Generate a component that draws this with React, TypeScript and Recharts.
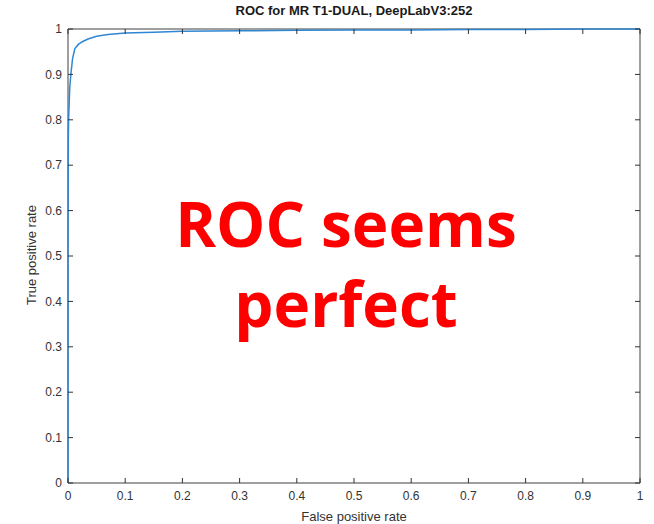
import { CartesianGrid, Line, LineChart, XAxis, YAxis } from "recharts";

const falsePositiveRate = [
  0, 0, 0.0005, 0.001, 0.003, 0.005, 0.008, 0.012, 0.018, 0.025, 0.035, 0.05, 0.07, 0.1, 0.15, 0.2, 0.3, 0.4, 0.5,
  0.6, 0.7, 0.8, 0.9, 1,
];
const truePositiveRate = [
  0, 0.5, 0.75, 0.8, 0.87, 0.9, 0.935, 0.957, 0.966, 0.972, 0.978, 0.984, 0.988, 0.991, 0.993, 0.995, 0.996, 0.997,
  0.998, 0.998, 0.999, 0.999, 1, 1,
];
const ticks = [0, 0.1, 0.2, 0.3, 0.4, 0.5, 0.6, 0.7, 0.8, 0.9, 1];

const TITLE = "ROC for MR T1-DUAL, DeepLabV3:252";
const X_LABEL = "False positive rate";
const Y_LABEL = "True positive rate";
const NOTE = ["ROC seems", "perfect"];

const WIDTH = 654;
const HEIGHT = 524;
const MARGIN = { top: 29, right: 14, bottom: 0, left: 0 };
const FONT = "'Liberation Sans', Arial, Helvetica, sans-serif";
const TICK_STROKE = "#333";
const TICK_LEN = 5;
const X_GAP = 8;
const Y_GAP = 6;

const data = falsePositiveRate.map((fpr, i) => ({ fpr, tpr: truePositiveRate[i] }));

// matlab-style ticks: marks point into the box on all four sides, labels outside
function BottomTick({ x, y, payload }: any) {
  const axisY = y - X_GAP;
  const topY = MARGIN.top;
  return (
    <g>
      <line x1={x} x2={x} y1={axisY} y2={axisY - TICK_LEN} stroke={TICK_STROKE} />
      <line x1={x} x2={x} y1={topY} y2={topY + TICK_LEN} stroke={TICK_STROKE} />
      <text x={x} y={y} dy="0.71em" textAnchor="middle" fontSize={12} fill="#333" fontFamily={FONT}>
        {payload.value}
      </text>
    </g>
  );
}

function LeftTick({ x, y, payload }: any) {
  const axisX = x + Y_GAP;
  const rightX = WIDTH - MARGIN.right;
  return (
    <g>
      <line x1={axisX} x2={axisX + TICK_LEN} y1={y} y2={y} stroke={TICK_STROKE} />
      <line x1={rightX - TICK_LEN} x2={rightX} y1={y} y2={y} stroke={TICK_STROKE} />
      <text x={x} y={y} dy="0.355em" textAnchor="end" fontSize={12} fill="#333" fontFamily={FONT}>
        {payload.value}
      </text>
    </g>
  );
}

export default function App() {
  return (
    <div style={{ position: "absolute", left: 0, top: 0, width: WIDTH, height: HEIGHT, background: "#fff" }}>
      <LineChart width={WIDTH} height={HEIGHT} data={data} margin={MARGIN}>
        <CartesianGrid
          horizontalValues={[0, 1]}
          verticalValues={[0, 1]}
          stroke="#7f7f7f"
          strokeWidth={1.5}
          fill="none"
        />
        <XAxis
          dataKey="fpr"
          type="number"
          domain={[0, 1]}
          ticks={ticks}
          height={41}
          tickSize={0}
          tickMargin={X_GAP}
          axisLine={false}
          tickLine={false}
          tick={<BottomTick />}
          interval={0}
        />
        <YAxis
          type="number"
          domain={[0, 1]}
          ticks={ticks}
          width={68}
          tickSize={0}
          tickMargin={Y_GAP}
          axisLine={false}
          tickLine={false}
          tick={<LeftTick />}
          interval={0}
        />
        <Line
          dataKey="tpr"
          type="linear"
          stroke="#2f86d2"
          strokeWidth={1.5}
          dot={false}
          activeDot={false}
          isAnimationActive={false}
        />
      </LineChart>

      <div
        style={{
          position: "absolute",
          left: 68,
          width: 572,
          top: 3,
          textAlign: "center",
          fontFamily: FONT,
          fontWeight: "bold",
          fontSize: 13,
          color: "#1a1a1a",
        }}
      >
        {TITLE}
      </div>
      <div
        style={{
          position: "absolute",
          left: 68,
          width: 572,
          top: 509,
          textAlign: "center",
          fontFamily: FONT,
          fontSize: 13,
          color: "#333",
        }}
      >
        {X_LABEL}
      </div>
      <div
        style={{
          position: "absolute",
          left: 32 - 100,
          top: 255 - 8,
          width: 200,
          height: 16,
          lineHeight: "16px",
          textAlign: "center",
          transform: "rotate(-90deg)",
          fontFamily: FONT,
          fontSize: 13,
          color: "#333",
        }}
      >
        {Y_LABEL}
      </div>
      {NOTE.map((line, i) => (
        <div
          key={line}
          style={{
            position: "absolute",
            left: 46,
            width: 600,
            top: 192 + i * 80,
            textAlign: "center",
            lineHeight: "62px",
            fontFamily: "'Open Sans', sans-serif",
            fontWeight: 700,
            fontSize: 62,
            color: "#ff0000",
          }}
        >
          {line}
        </div>
      ))}
    </div>
  );
}
